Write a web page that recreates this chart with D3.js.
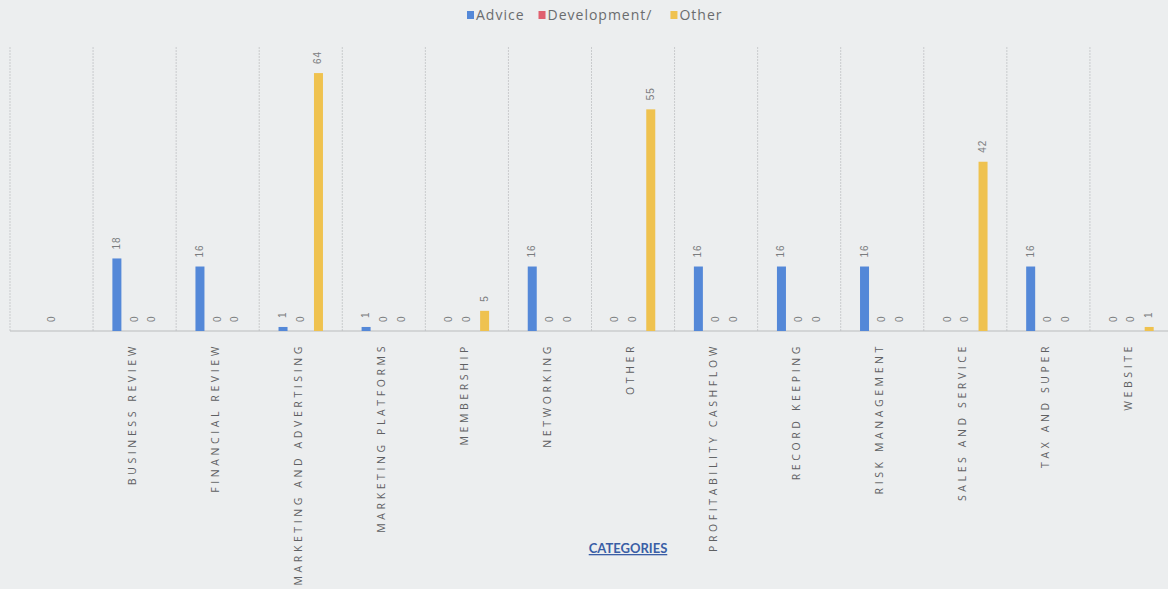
<!DOCTYPE html>
<html>
<head>
<meta charset="utf-8">
<script src="https://cdn.jsdelivr.net/npm/d3@7"></script>
<style>
  body { margin: 0; background: #eceeef; }
  svg { display: block; }
</style>
</head>
<body>
<script>
var W = 1168, H = 589;
var M = { left: 10, right: -5, top: 47, bottom: 258 };

var categories = ["", "BUSINESS REVIEW", "FINANCIAL REVIEW", "MARKETING AND ADVERTISING",
    "MARKETING PLATFORMS", "MEMBERSHIP", "NETWORKING", "OTHER", "PROFITABILITY CASHFLOW",
    "RECORD KEEPING", "RISK MANAGEMENT", "SALES AND SERVICE", "TAX AND SUPER", "WEBSITE"];
var seriesNames = ["Advice", "Development/", "Other"];
var seriesColors = ["#5488d8", "#e0606e", "#efc24f"];
// null = no value for that category (no bar, no label)
var advice      = [null, 18, 16, 1, 1, 0, 16, 0, 16, 16, 16, 0, 16, 0];
var development = [0, 0, 0, 0, 0, 0, 0, 0, 0, 0, 0, 0, 0, 0];
var other       = [null, 0, 0, 64, 0, 5, 0, 55, 0, 0, 0, 42, 0, 1];
var yMax = 70;
var axisTitle = "CATEGORIES";

var series = [advice, development, other];

var svg = d3.select("body").append("svg")
    .attr("width", W)
    .attr("height", H);

var x = d3.scaleBand()
    .domain(categories.map(function(c, i) { return i; }))
    .range([M.left, W - M.right])
    .paddingInner(0).paddingOuter(0);

var xs = d3.scaleBand()
    .domain([0, 1, 2])
    .range([x.bandwidth() * 0.18, x.bandwidth() * 0.82]);

var y = d3.scaleLinear()
    .domain([0, yMax])
    .range([H - M.bottom, H - M.bottom - yMax * 4.03]);

var base = y(0);

// vertical category gridlines
svg.append("g")
    .selectAll("line")
    .data(categories.map(function(c, i) { return i; }).concat([categories.length]))
    .enter().append("line")
    .attr("x1", function(i) { return i < categories.length ? x(i) : x(i - 1) + x.bandwidth(); })
    .attr("x2", function(i) { return i < categories.length ? x(i) : x(i - 1) + x.bandwidth(); })
    .attr("y1", M.top)
    .attr("y2", base)
    .attr("stroke", "#c9cbcd")
    .attr("stroke-width", 1)
    .attr("stroke-dasharray", "2,1");

// baseline
svg.append("line")
    .attr("x1", M.left).attr("x2", W)
    .attr("y1", base).attr("y2", base)
    .attr("stroke", "#b9bbbd")
    .attr("stroke-width", 1.2);

// bars + labels
series.forEach(function(vals, s) {
    var pts = vals.map(function(v, i) { return { i: i, v: v }; })
        .filter(function(d) { return d.v !== null; });
    var bw = 9;
    var g = svg.append("g");
    g.selectAll("rect")
        .data(pts.filter(function(d) { return d.v > 0; }))
        .enter().append("rect")
        .attr("x", function(d) { return x(d.i) + xs(s) + xs.bandwidth() / 2 - bw / 2; })
        .attr("y", function(d) { return y(d.v); })
        .attr("width", bw)
        .attr("height", function(d) { return base - y(d.v); })
        .attr("fill", seriesColors[s]);
    g.selectAll("text")
        .data(pts)
        .enter().append("text")
        .attr("transform", function(d) {
            var cx = x(d.i) + xs(s) + xs.bandwidth() / 2 + 3;
            return "translate(" + cx + "," + (y(d.v) - 9) + ") rotate(-90)";
        })
        .attr("font-family", "Liberation Sans, sans-serif")
        .attr("font-size", 10)
        .attr("letter-spacing", 1)
        .attr("fill", "#7a7c7e")
        .text(function(d) { return d.v; });
});

// category labels
svg.append("g")
    .selectAll("text")
    .data(categories)
    .enter().append("text")
    .attr("transform", function(c, i) {
        return "translate(" + (x(i) + x.bandwidth() / 2 + 1) + "," + (base + 12) + ") rotate(-90)";
    })
    .attr("text-anchor", "end")
    .attr("font-family", "Open Sans, sans-serif")
    .attr("font-size", 10.5)
    .attr("letter-spacing", 3.6)
    .attr("fill", "#5e6062")
    .text(function(c) { return c; });

// axis title
svg.append("text")
    .attr("x", 628)
    .attr("y", 553)
    .attr("text-anchor", "middle")
    .attr("font-family", "Lato, sans-serif")
    .attr("font-weight", "bold")
    .attr("font-size", 13)
    .attr("fill", "#3a5ea6")
    .attr("text-decoration", "underline")
    .text(axisTitle);

// legend, laid out left to right
var lg = svg.append("g").attr("transform", "translate(467,11)");
var lx = 0;
var gaps = [14, 18, 0];
seriesNames.forEach(function(name, i) {
    var item = lg.append("g").attr("transform", "translate(" + lx + ",0)");
    item.append("rect")
        .attr("width", 7).attr("height", 8)
        .attr("fill", seriesColors[i]);
    var t = item.append("text")
        .attr("x", 9)
        .attr("y", 9)
        .attr("font-family", "Open Sans, sans-serif")
        .attr("font-size", 14)
        .attr("letter-spacing", 1)
        .attr("fill", "#6a6c6e")
        .text(name);
    lx += 9 + t.node().getComputedTextLength() + gaps[i];
});
</script>
</body>
</html>
